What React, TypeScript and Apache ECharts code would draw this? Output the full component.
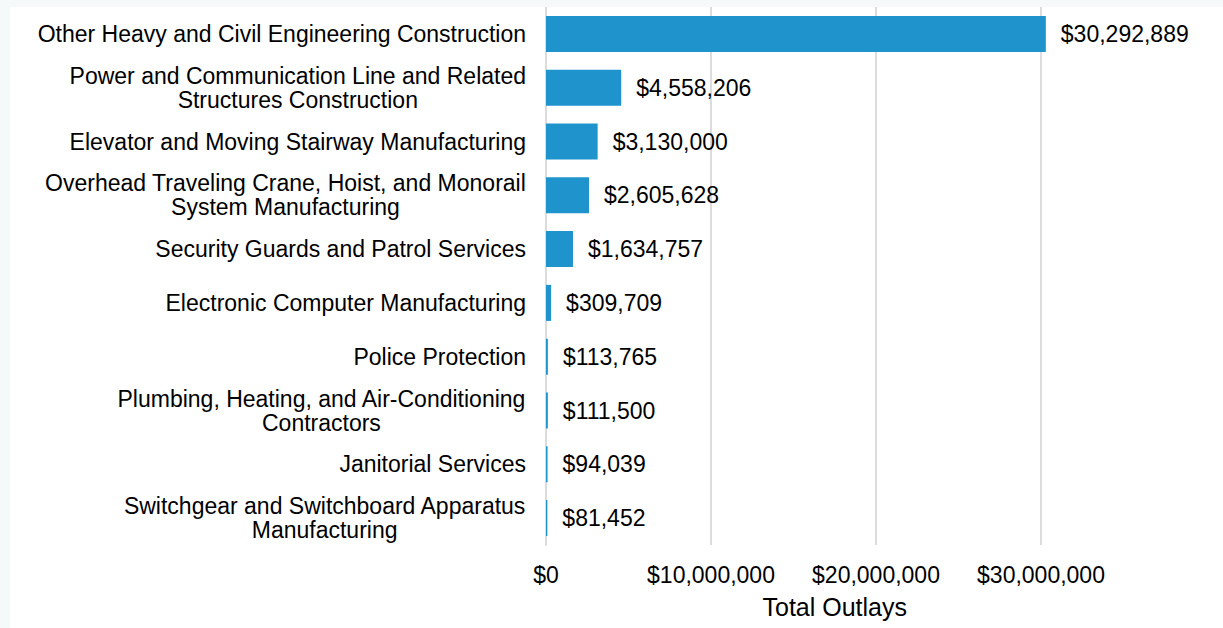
import React, { useEffect, useRef } from "react";
import * as echarts from "echarts";

const categories: string[] = [
  "Other Heavy and Civil Engineering Construction",
  "Power and Communication Line and Related\nStructures Construction",
  "Elevator and Moving Stairway Manufacturing",
  "Overhead Traveling Crane, Hoist, and Monorail\nSystem Manufacturing",
  "Security Guards and Patrol Services",
  "Electronic Computer Manufacturing",
  "Police Protection",
  "Plumbing, Heating, and Air-Conditioning\nContractors",
  "Janitorial Services",
  "Switchgear and Switchboard Apparatus\nManufacturing",
];

const totalOutlays: number[] = [
  30292889, 4558206, 3130000, 2605628, 1634757, 309709, 113765, 111500, 94039, 81452,
];

const axisTitle = "Total Outlays";
const xMax = 35000000;
const xInterval = 10000000;

const FONT = "'Liberation Sans', Arial, sans-serif";
const FS = 23;

const money = (v: number) => "$" + Math.round(v).toLocaleString("en-US");

export default function App() {
  const ref = useRef<HTMLDivElement>(null);
  useEffect(() => {
    if (!ref.current) return;
    const chart = echarts.init(ref.current, undefined, { renderer: "svg" });
    chart.setOption({
      animation: false,
      backgroundColor: "#ffffff",
      textStyle: { fontFamily: FONT },
      grid: {
        left: 536,
        top: 0,
        right: 99.5,
        bottom: 83,
        containLabel: false,
        outerBoundsMode: "none",
      },
      xAxis: {
        type: "value",
        min: 0,
        max: xMax,
        interval: xInterval,
        name: axisTitle,
        nameLocation: "middle",
        nameGap: 49,
        nameTextStyle: { fontSize: 25, color: "#000", fontFamily: FONT },
        axisLine: { show: false },
        axisTick: { show: false },
        axisLabel: {
          fontSize: FS,
          color: "#000",
          fontFamily: FONT,
          margin: 18,
          showMaxLabel: false,
          formatter: (v: number) => money(v),
        },
        splitLine: {
          show: true,
          showMaxLine: false,
          lineStyle: { color: "#dcdcdc", width: 2 },
        },
      },
      yAxis: {
        type: "category",
        data: categories,
        inverse: true,
        axisLine: { show: true, lineStyle: { color: "#dcdcdc", width: 2 } },
        axisTick: { show: false },
        axisLabel: {
          margin: 20,
          formatter: (v: string) =>
            v
              .split("\n")
              .map((l) => "{c|" + l + "}")
              .join("\n"),
          rich: {
            c: {
              fontSize: FS,
              fontFamily: FONT,
              color: "#000",
              align: "center",
              lineHeight: 24,
            },
          },
        },
      },
      series: [
        {
          type: "bar",
          data: totalOutlays,
          barCategoryGap: "33%",
          itemStyle: { color: "#1f94cc" },
          label: {
            show: true,
            position: "right",
            distance: 15,
            fontSize: FS,
            fontFamily: FONT,
            color: "#000",
            formatter: (p: any) => money(p.value),
          },
        },
      ],
    });
    return () => chart.dispose();
  }, []);
  return (
    <div
      style={{
        position: "fixed",
        left: 0,
        top: 0,
        width: 1223,
        height: 628,
        background: "#f5f9fa",
      }}
    >
      <div
        ref={ref}
        style={{ position: "absolute", left: 10, top: 7, width: 1213, height: 621 }}
      />
    </div>
  );
}
